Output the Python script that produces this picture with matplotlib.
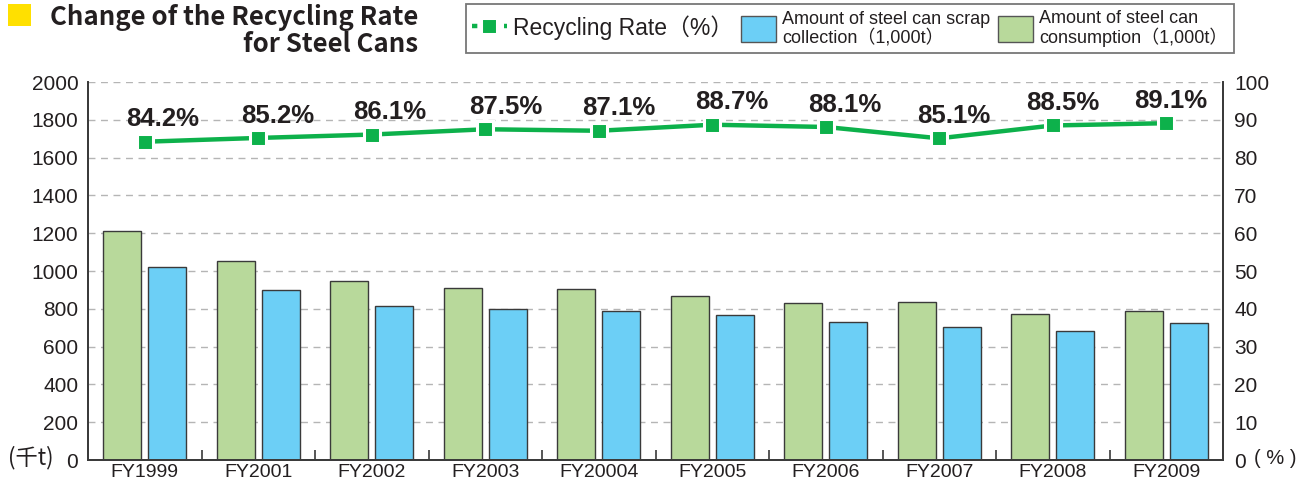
import matplotlib
matplotlib.use('Agg')
from matplotlib import pyplot as plt
from matplotlib.lines import Line2D
from matplotlib.patches import Patch, Rectangle
import numpy as np

years = ['FY1999', 'FY2001', 'FY2002', 'FY2003', 'FY20004',
         'FY2005', 'FY2006', 'FY2007', 'FY2008', 'FY2009']
consumption = [1214, 1055, 948, 910, 907, 866, 831, 834, 771, 789]
collection = [1020, 898, 815, 797, 791, 769, 730, 706, 681, 724]
rate = [84.2, 85.2, 86.1, 87.5, 87.1, 88.7, 88.1, 85.1, 88.5, 89.1]

left_ticks = [0, 200, 400, 600, 800, 1000, 1200, 1400, 1600, 1800, 2000]
right_ticks = [0, 10, 20, 30, 40, 50, 60, 70, 80, 90, 100]

# label nudges to the right of each marker (px), as in the original layout
label_dx = [18, 19, 18, 20, 20, 19, 19, 15, 10, 4]

TXT = '#231f20'
GREEN_BAR = '#b8d99b'
BLUE_BAR = '#6ccff6'
LINE_GREEN = '#0db14b'
FONTS = ['Liberation Sans', 'Noto Sans CJK JP', 'DejaVu Sans']

plt.rcParams['font.family'] = FONTS

fig = plt.figure(figsize=(13, 4.84), dpi=100)
ax = fig.add_axes([88/1300, 1-460/484, (1223-88)/1300, (460-82)/484])
ax2 = ax.twinx()

x = np.arange(len(years))
w = 0.335
ax.bar(x - 0.2, consumption, w, color=GREEN_BAR, edgecolor='#3a3a3a', linewidth=1.0, zorder=2)
ax.bar(x + 0.2, collection, w, color=BLUE_BAR, edgecolor='#3a3a3a', linewidth=1.0, zorder=2)

ax.set_xlim(-0.5, len(years) - 0.5)
ax.set_ylim(0, 2000)
ax.set_yticks(left_ticks)
ax.yaxis.grid(True, color='#b5b5b5', linestyle=(0, (5, 4)), linewidth=1.0, zorder=0)
ax.set_axisbelow(True)
ax.set_xticks(x)
ax.set_xticklabels(years)
ax.set_xticks(x[:-1] + 0.5, minor=True)
ax.tick_params(axis='x', which='major', length=0, pad=3, labelsize=14, labelcolor=TXT)
ax.tick_params(axis='x', which='minor', length=7, width=1.2, direction='in', color='#3a3a3a')
ax.tick_params(axis='y', length=0, pad=7, labelsize=15, labelcolor=TXT)

ax2.set_ylim(0, 100)
ax2.set_yticks(right_ticks)
ax2.tick_params(axis='y', length=0, pad=8, labelsize=15, labelcolor=TXT)

for a in (ax, ax2):
    a.spines['top'].set_visible(False)
    for s in ('left', 'right', 'bottom'):
        a.spines[s].set_color('#3a3a3a')
        a.spines[s].set_linewidth(1.3)

# unit marks next to the zero ticks
fig.text(54/1300, 1-458/484, '(千t)', ha='right', va='center', fontsize=16, color=TXT,
         family=['Noto Sans CJK JP', 'DejaVu Sans'])
fig.text(1254/1300, 1-458/484, '( % )', ha='left', va='center', fontsize=14.5, color=TXT,
         family=['Liberation Sans', 'DejaVu Sans'])

ax2.plot(x, rate, color=LINE_GREEN, linewidth=3.2, marker='s', markersize=11.5,
         markerfacecolor=LINE_GREEN, markeredgecolor='white', markeredgewidth=2.2, zorder=5)
for xi, r, dx in zip(x, rate, label_dx):
    ax2.annotate(f'{r}%', (xi, r), xytext=(dx * 0.72, 11), textcoords='offset points',
                 ha='center', va='baseline', fontsize=18.5, fontweight='bold', color=TXT)

# title block
fig.patches.append(Rectangle((8/1300, 1-26/484), 23/1300, 22/484, transform=fig.transFigure,
                             facecolor='#ffe000', edgecolor='none'))
fig.text(418/1300, 1-4/484, 'Change of the Recycling Rate\nfor Steel Cans', ha='right', va='top',
         multialignment='right', fontsize=18.6, fontweight='bold', color=TXT,
         family=['Noto Sans CJK JP', 'DejaVu Sans'], linespacing=1.0)

handles = [
    Line2D([], [], color=LINE_GREEN, linewidth=3.2, linestyle=(0, (1.2, 1.2)), marker='s',
           markersize=11, markerfacecolor=LINE_GREEN, markeredgecolor='white', markeredgewidth=2.2),
    Patch(facecolor=BLUE_BAR, edgecolor='#555555', linewidth=1.0),
    Patch(facecolor=GREEN_BAR, edgecolor='#555555', linewidth=1.0),
]
labels = ['Recycling Rate（%）', 'Amount of steel can scrap\ncollection（1,000t）',
          'Amount of steel can\nconsumption（1,000t）']
leg = fig.legend(handles, labels, loc='upper left', bbox_to_anchor=(466/1300, 1-4/484),
                 ncol=3, fontsize=13, frameon=True, fancybox=False, borderaxespad=0,
                 handlelength=1.9, handleheight=1.8, handletextpad=0.35, columnspacing=0.45,
                 borderpad=0.35, labelspacing=0)
leg.get_frame().set_edgecolor('#555555')
leg.get_frame().set_linewidth(1.3)
for t in leg.get_texts():
    t.set_color(TXT)
    t.set_linespacing(1.0)
leg.get_texts()[0].set_fontsize(16.5)

fig.savefig('out.png', dpi=100, facecolor='w')
plt.close()
